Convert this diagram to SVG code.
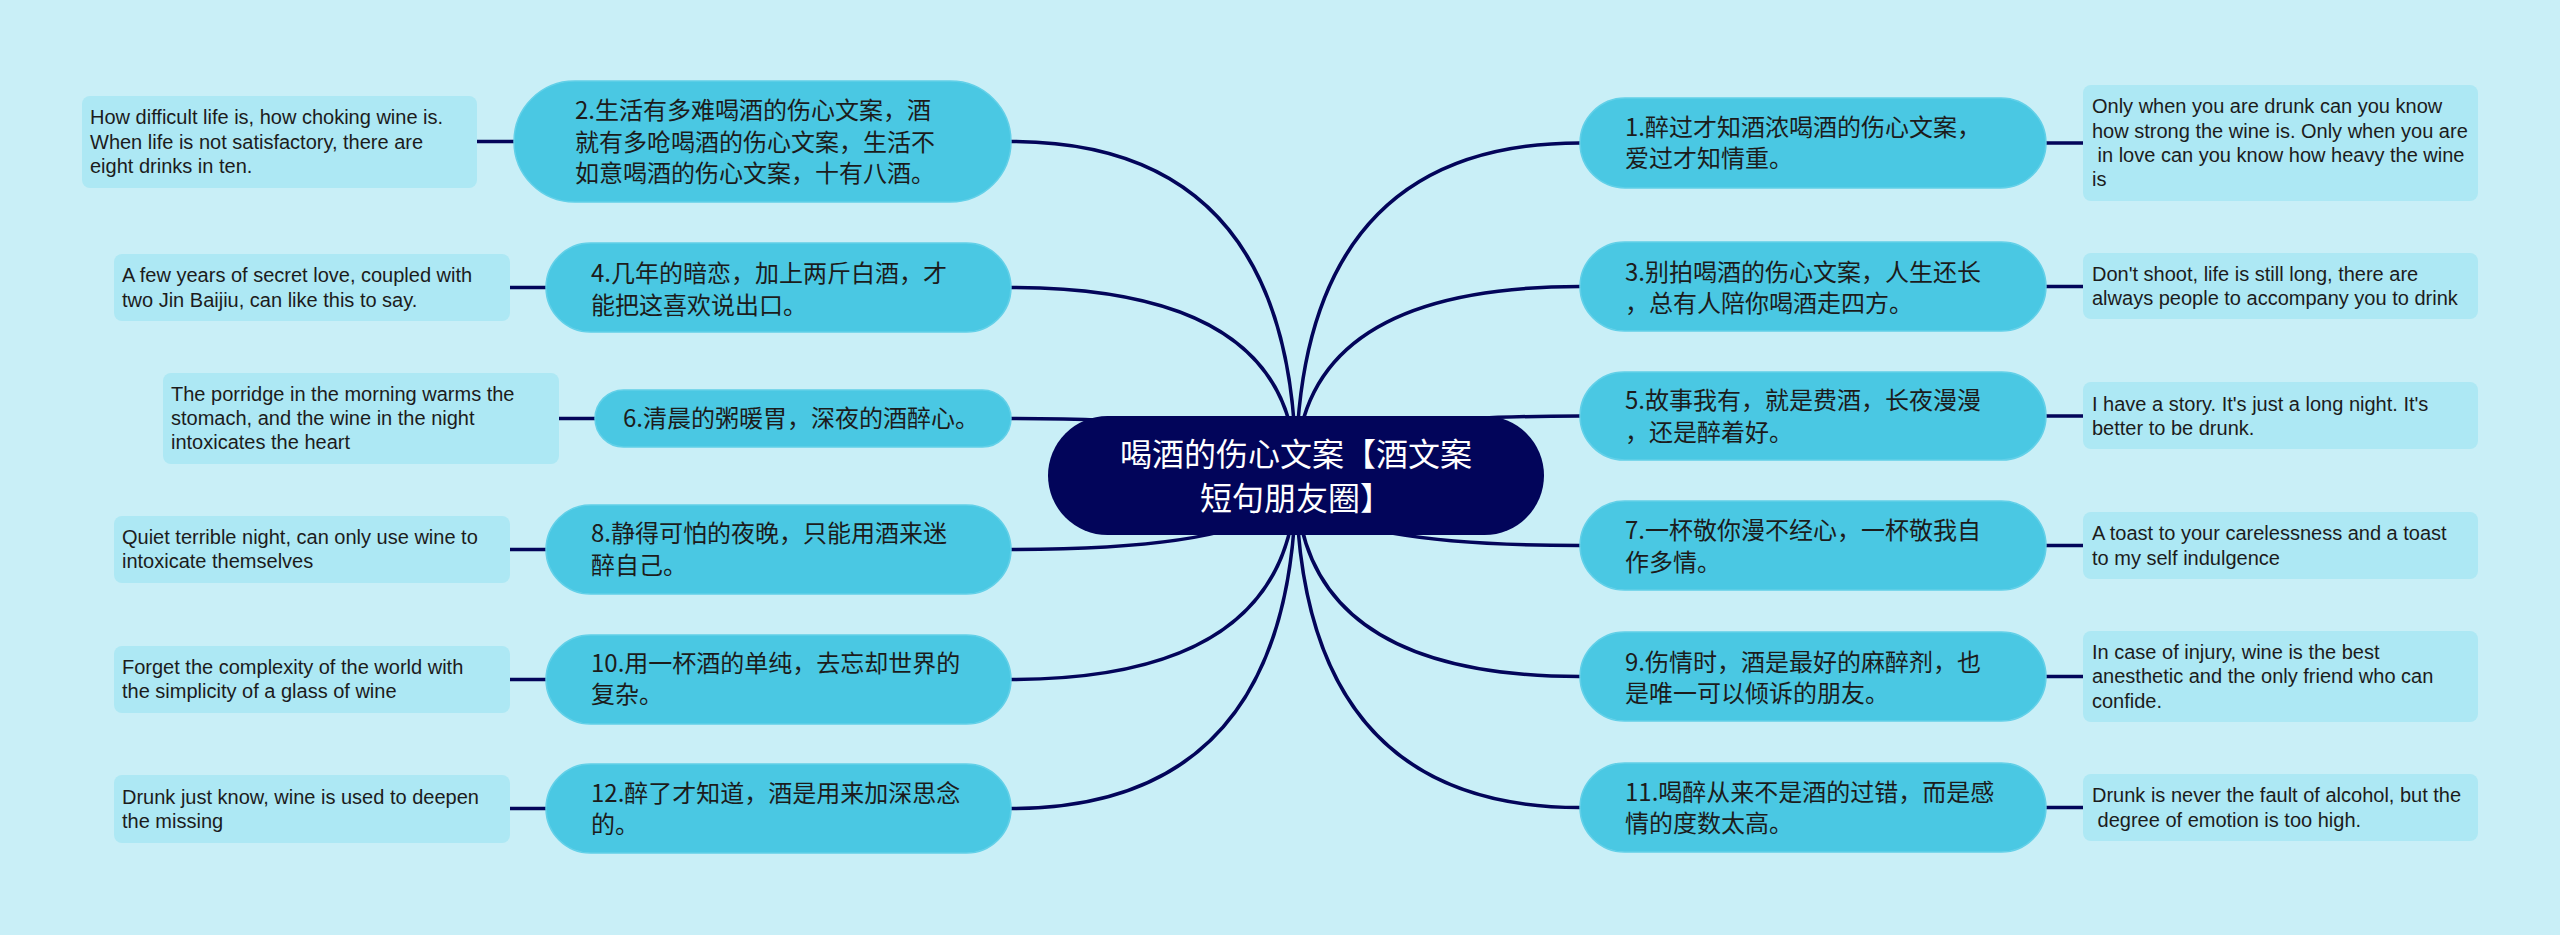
<svg xmlns="http://www.w3.org/2000/svg" width="2560" height="935" viewBox="0 0 2560 935">
<style>
.bg{fill:#c9eff7}
.edge{fill:none;stroke:#03055a;stroke-width:3.5;stroke-linecap:round}
.main rect{fill:#4ac8e3;stroke:#62d0e8;stroke-width:1.5}
.main text{font-family:"Noto Sans CJK SC","Noto Sans",sans-serif;font-size:24px;fill:#1c1c1c}
.leaf rect{fill:#ade8f4}
.leaf text{font-family:"Liberation Sans",Arial,sans-serif;font-size:20px;fill:#1c1c1c}
.center rect{fill:#02055a}
.center text{font-family:"Noto Sans CJK SC",sans-serif;font-size:32px;fill:#ffffff;text-anchor:middle}
</style>
<rect class="bg" x="0" y="0" width="2560" height="935"/>
<g id="connectors">
<path class="edge" d="M1296,475 Q1296,141.5 1011,141.5"/>
<path class="edge" d="M1296,475 Q1296,287.5 1011,287.5"/>
<path class="edge" d="M1296,475 Q1296,418.5 1011,418.5"/>
<path class="edge" d="M1296,475 Q1296,549.5 1011,549.5"/>
<path class="edge" d="M1296,475 Q1296,679.5 1011,679.5"/>
<path class="edge" d="M1296,475 Q1296,808.5 1011,808.5"/>
<path class="edge" d="M1296,475 Q1296,143 1580,143"/>
<path class="edge" d="M1296,475 Q1296,286.5 1580,286.5"/>
<path class="edge" d="M1296,475 Q1296,416 1580,416"/>
<path class="edge" d="M1296,475 Q1296,545.5 1580,545.5"/>
<path class="edge" d="M1296,475 Q1296,676.5 1580,676.5"/>
<path class="edge" d="M1296,475 Q1296,807.5 1580,807.5"/>
<path class="edge" d="M477,141.5 H514"/>
<path class="edge" d="M510,287.5 H546"/>
<path class="edge" d="M559,418.5 H595"/>
<path class="edge" d="M510,549.5 H546"/>
<path class="edge" d="M510,679.5 H546"/>
<path class="edge" d="M510,808.5 H546"/>
<path class="edge" d="M2046,143 H2083"/>
<path class="edge" d="M2046,286.5 H2083"/>
<path class="edge" d="M2046,416 H2083"/>
<path class="edge" d="M2046,545.5 H2083"/>
<path class="edge" d="M2046,676.5 H2083"/>
<path class="edge" d="M2046,807.5 H2083"/>
</g>
<g id="center" class="center">
<rect x="1048" y="416" width="496" height="119" rx="59.5"/>
<text x="1296" y="466">喝酒的伤心文案【酒文案</text>
<text x="1296" y="510">短句朋友圈】</text>
</g>
<g id="main2" class="main">
<rect x="514" y="81" width="497" height="121" rx="60.5"/>
<text x="575" y="119">2.生活有多难喝酒的伤心文案，酒</text>
<text x="575" y="151">就有多呛喝酒的伤心文案，生活不</text>
<text x="575" y="182">如意喝酒的伤心文案，十有八酒。</text>
</g>
<g id="main4" class="main">
<rect x="546" y="243" width="465" height="89" rx="44.5"/>
<text x="591" y="282">4.几年的暗恋，加上两斤白酒，才</text>
<text x="591" y="314">能把这喜欢说出口。</text>
</g>
<g id="main6" class="main">
<rect x="595" y="390" width="416" height="57" rx="28.5"/>
<text x="623" y="427">6.清晨的粥暖胃，深夜的酒醉心。</text>
</g>
<g id="main8" class="main">
<rect x="546" y="505" width="465" height="89" rx="44.5"/>
<text x="591" y="542">8.静得可怕的夜晚，只能用酒来迷</text>
<text x="591" y="574">醉自己。</text>
</g>
<g id="main10" class="main">
<rect x="546" y="635" width="465" height="89" rx="44.5"/>
<text x="591" y="672">10.用一杯酒的单纯，去忘却世界的</text>
<text x="591" y="703">复杂。</text>
</g>
<g id="main12" class="main">
<rect x="546" y="764" width="465" height="89" rx="44.5"/>
<text x="591" y="802">12.醉了才知道，酒是用来加深思念</text>
<text x="591" y="833">的。</text>
</g>
<g id="main1" class="main">
<rect x="1580" y="98" width="466" height="90" rx="45"/>
<text x="1625" y="136">1.醉过才知酒浓喝酒的伤心文案，</text>
<text x="1625" y="167">爱过才知情重。</text>
</g>
<g id="main3" class="main">
<rect x="1580" y="242" width="466" height="89" rx="44.5"/>
<text x="1625" y="281">3.别拍喝酒的伤心文案，人生还长</text>
<text x="1625" y="312">，总有人陪你喝酒走四方。</text>
</g>
<g id="main5" class="main">
<rect x="1580" y="372" width="466" height="88" rx="44"/>
<text x="1625" y="409">5.故事我有，就是费酒，长夜漫漫</text>
<text x="1625" y="441">，还是醉着好。</text>
</g>
<g id="main7" class="main">
<rect x="1580" y="501" width="466" height="89" rx="44.5"/>
<text x="1625" y="539">7.一杯敬你漫不经心，一杯敬我自</text>
<text x="1625" y="571">作多情。</text>
</g>
<g id="main9" class="main">
<rect x="1580" y="632" width="466" height="89" rx="44.5"/>
<text x="1625" y="671">9.伤情时，酒是最好的麻醉剂，也</text>
<text x="1625" y="702">是唯一可以倾诉的朋友。</text>
</g>
<g id="main11" class="main">
<rect x="1580" y="763" width="466" height="89" rx="44.5"/>
<text x="1625" y="801">11.喝醉从来不是酒的过错，而是感</text>
<text x="1625" y="832">情的度数太高。</text>
</g>
<g id="leaf2" class="leaf">
<rect x="82" y="96" width="395" height="92" rx="8"/>
<text x="90" y="124">How difficult life is, how choking wine is.</text>
<text x="90" y="149">When life is not satisfactory, there are</text>
<text x="90" y="173">eight drinks in ten.</text>
</g>
<g id="leaf4" class="leaf">
<rect x="114" y="254" width="396" height="67" rx="8"/>
<text x="122" y="282">A few years of secret love, coupled with</text>
<text x="122" y="307">two Jin Baijiu, can like this to say.</text>
</g>
<g id="leaf6" class="leaf">
<rect x="163" y="373" width="396" height="91" rx="8"/>
<text x="171" y="401">The porridge in the morning warms the</text>
<text x="171" y="425">stomach, and the wine in the night</text>
<text x="171" y="449">intoxicates the heart</text>
</g>
<g id="leaf8" class="leaf">
<rect x="114" y="516" width="396" height="67" rx="8"/>
<text x="122" y="544">Quiet terrible night, can only use wine to</text>
<text x="122" y="568">intoxicate themselves</text>
</g>
<g id="leaf10" class="leaf">
<rect x="114" y="646" width="396" height="67" rx="8"/>
<text x="122" y="674">Forget the complexity of the world with</text>
<text x="122" y="698">the simplicity of a glass of wine</text>
</g>
<g id="leaf12" class="leaf">
<rect x="114" y="775" width="396" height="68" rx="8"/>
<text x="122" y="804">Drunk just know, wine is used to deepen</text>
<text x="122" y="828">the missing</text>
</g>
<g id="leaf1" class="leaf">
<rect x="2083" y="85" width="395" height="116" rx="8"/>
<text x="2092" y="113">Only when you are drunk can you know</text>
<text x="2092" y="138">how strong the wine is. Only when you are</text>
<text x="2092" y="162" xml:space="preserve"> in love can you know how heavy the wine</text>
<text x="2092" y="186">is</text>
</g>
<g id="leaf3" class="leaf">
<rect x="2083" y="253" width="395" height="66" rx="8"/>
<text x="2092" y="281">Don't shoot, life is still long, there are</text>
<text x="2092" y="305">always people to accompany you to drink</text>
</g>
<g id="leaf5" class="leaf">
<rect x="2083" y="382" width="395" height="67" rx="8"/>
<text x="2092" y="411">I have a story. It's just a long night. It's</text>
<text x="2092" y="435">better to be drunk.</text>
</g>
<g id="leaf7" class="leaf">
<rect x="2083" y="512" width="395" height="67" rx="8"/>
<text x="2092" y="540">A toast to your carelessness and a toast</text>
<text x="2092" y="565">to my self indulgence</text>
</g>
<g id="leaf9" class="leaf">
<rect x="2083" y="631" width="395" height="91" rx="8"/>
<text x="2092" y="659">In case of injury, wine is the best</text>
<text x="2092" y="683">anesthetic and the only friend who can</text>
<text x="2092" y="708">confide.</text>
</g>
<g id="leaf11" class="leaf">
<rect x="2083" y="774" width="395" height="67" rx="8"/>
<text x="2092" y="802">Drunk is never the fault of alcohol, but the</text>
<text x="2092" y="827" xml:space="preserve"> degree of emotion is too high.</text>
</g>
</svg>
